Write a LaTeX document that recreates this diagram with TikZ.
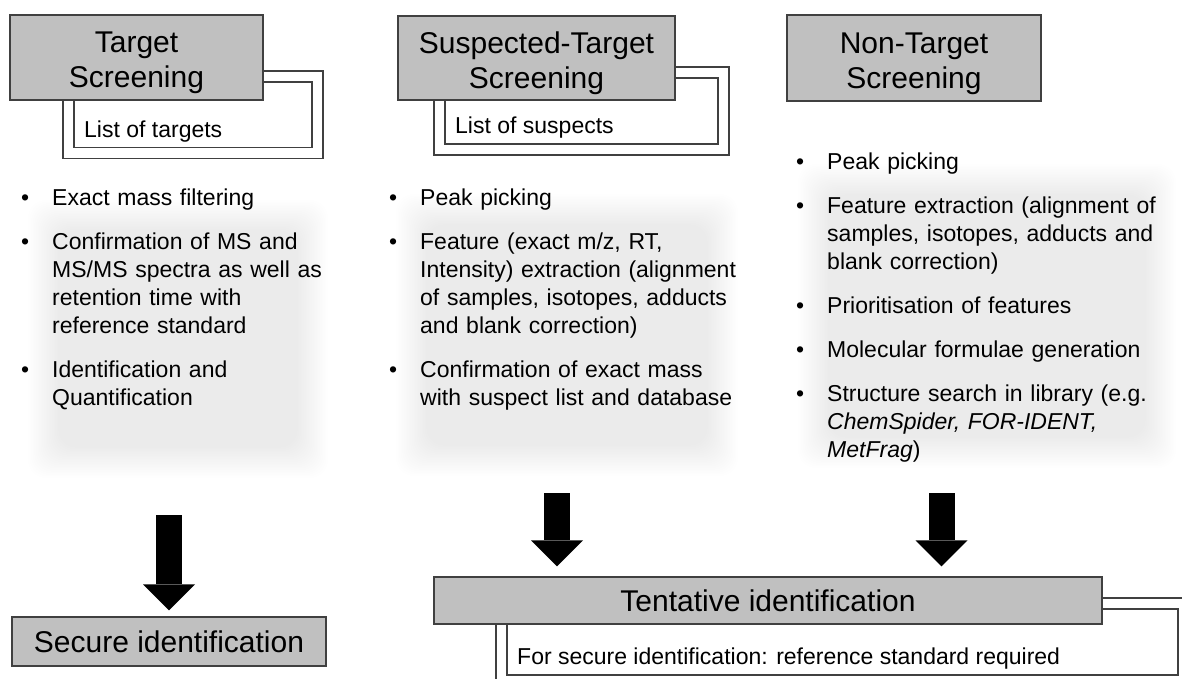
\documentclass[tikz,border=0pt]{standalone}
\usepackage{fontspec}
\setmainfont{Liberation Sans}
\usetikzlibrary{arrows.meta}
\definecolor{boxgray}{HTML}{C0C0C0}
\definecolor{edgegray}{HTML}{404040}
\newcommand{\headfont}{\fontsize{30}{35}\selectfont}
\newcommand{\listfont}{\fontsize{23}{28}\selectfont}
\newcommand{\headtop}{\rule{0pt}{32pt}}
\newcommand{\bitem}[1]{\hangindent=31pt\hangafter=1\noindent\makebox[31pt][l]{\textbullet}#1\par}
\newcommand{\softbox}[4]{%
  \foreach \k in {0,...,19}
    \fill[black,opacity=0.0058,rounded corners=18pt] (#1+1.6*\k,#2+1.6*\k) rectangle (#3-1.6*\k,#4-1.6*\k);}
\tikzset{
  headbox/.style={draw=edgegray,line width=1.4pt,fill=boxgray,inner sep=0pt,align=center,font=\headfont},
  listframe/.style={draw=edgegray,line width=1.1pt,double=white,double distance=9.9pt},
  listtext/.style={anchor=base west,inner sep=0pt,font=\listfont},
  bullets/.style={anchor=north west,inner sep=0pt,text width=400pt,font=\listfont,
    execute at begin node=\setlength{\parskip}{15.8pt}},
  bigarrow/.style={line width=26pt,-{Triangle[length=26pt,width=52pt,line width=0pt]}}
}
\begin{document}
\begin{tikzpicture}[x=1pt,y=-1pt]
\useasboundingbox (0,0) rectangle (1182,679);
\clip (0,0) rectangle (1182,679);
% shaded panels
\softbox{28}{200}{328}{478}
\softbox{396}{194}{738}{476}
\softbox{798}{164}{1176}{468}
% lists behind the headers
\draw[listframe] (68.5,76.5) rectangle (317.5,153);
\draw[listframe] (439.5,72.5) rectangle (723.5,149.5);
\node[listtext] (LT) at (84,138) {List of targets};
\node[listtext] (LS) at (455,134) {List of suspects};
% headers
\node[headbox,minimum width=253pt,minimum height=85pt] (TS) at (136.5,57.5) {\headtop Target\\Screening};
\node[headbox,minimum width=277pt,minimum height=84pt] (STS) at (536.5,58) {\headtop Suspected-Target\\Screening};
\node[headbox,minimum width=254pt,minimum height=86pt] (NTS) at (914,58) {\headtop Non-Target\\Screening};
% bullet lists
\node[bullets] (bT) at (21,189) {%
\bitem{Exact mass filtering}
\bitem{Confirmation of MS and\newline MS/MS spectra as well as\newline retention time with\newline reference standard}
\bitem{Identification and\newline Quantification}};
\node[bullets] (bS) at (389,189) {%
\bitem{Peak picking}
\bitem{Feature (exact m/z, RT,\newline Intensity) extraction (alignment\newline of samples, isotopes, adducts\newline and blank correction)}
\bitem{Confirmation of exact mass\newline with suspect list and database}};
\node[bullets] (bN) at (796,153) {%
\bitem{Peak picking}
\bitem{Feature extraction (alignment of\newline samples, isotopes, adducts and\newline blank correction)}
\bitem{Prioritisation of features}
\bitem{Molecular formulae generation}
\bitem{Structure search in library (e.g.\newline \textit{ChemSpider, FOR-IDENT,}\newline \textit{MetFrag})}};
% results
\draw[listframe] (501.5,603.5) rectangle (1183.5,680.5);
\node[headbox,minimum width=668pt,minimum height=47pt] (TI) at (768,600.5) {Tentative identification};
\node[listtext] (FS) at (517,664) {For secure identification: reference standard required};
\node[headbox,minimum width=314pt,minimum height=49pt] (SI) at (169,641.5) {Secure identification};
% arrows
\coordinate (a1) at (169,515);
\coordinate (a2) at (557,493);
\coordinate (a3) at (941.5,493);
\draw[bigarrow,shorten >=6pt] (a1) -- (SI);
\draw[bigarrow,shorten >=10pt] (a2) -- (a2 |- TI.north);
\draw[bigarrow,shorten >=10pt] (a3) -- (a3 |- TI.north);
\end{tikzpicture}
\end{document}
